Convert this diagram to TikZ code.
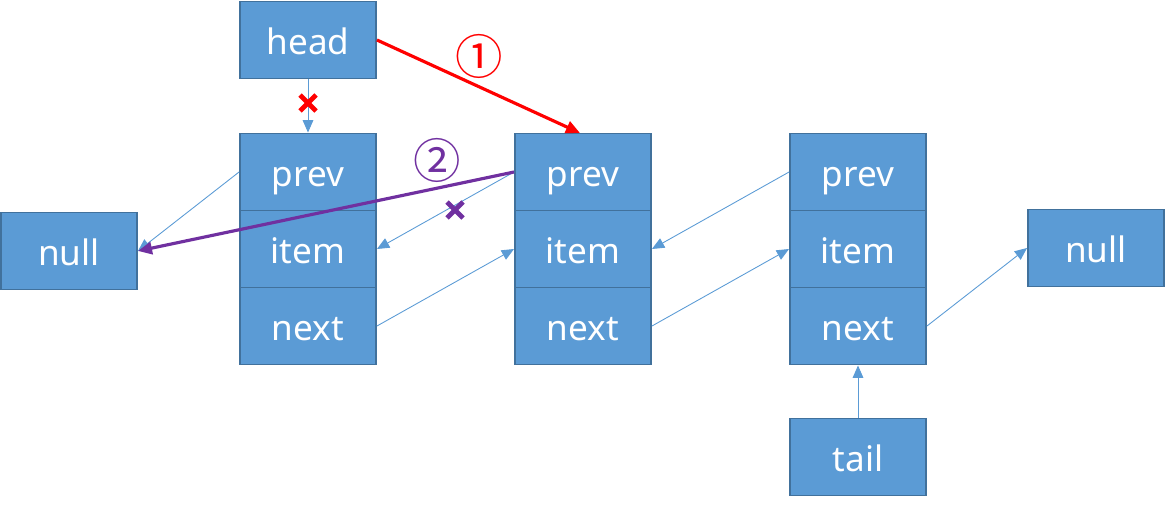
\documentclass[tikz,border=0pt]{standalone}
\usepackage{fontspec}
\setmainfont{Noto Sans}
\newfontfamily\cjkf{Noto Sans CJK SC}
\usetikzlibrary{arrows.meta}
\definecolor{boxfill}{HTML}{5B9BD5}
\definecolor{boxline}{HTML}{41719C}
\definecolor{lnblue}{HTML}{5B9BD5}
\definecolor{purp}{HTML}{7030A0}
\begin{document}
\begin{tikzpicture}[x=0.02cm,y=-0.02cm,
  cell/.style={draw=boxline,fill=boxfill,line width=1.1pt,minimum width=2.72cm,minimum height=1.54cm,inner sep=0pt,text=white,font=\fontsize{20}{24}\selectfont,text height=16pt,text depth=0pt},
  thin/.style={draw=lnblue,line width=0.5pt,-{Triangle[length=7pt,width=6pt]}},
  thick red/.style={draw=red,line width=1.8pt,-{Triangle[length=8pt,width=7pt]}},
  thick purp/.style={draw=purp,line width=1.8pt,-{Triangle[length=8pt,width=7pt]}},
  num/.style={font=\cjkf\fontsize{27}{30}\selectfont,inner sep=0pt}]
\useasboundingbox (0,0) rectangle (1165,504);
% boxes
\node[cell] (head) at (308,40) {head};
\node[cell] (n1p) at (308,172) {prev};
\node[cell] (n1i) at (308,249) {item};
\node[cell] (n1n) at (308,326) {next};
\node[cell] (n2p) at (583,172) {prev};
\node[cell] (n2i) at (583,249) {item};
\node[cell] (n2n) at (583,326) {next};
\node[cell] (n3p) at (858,172) {prev};
\node[cell] (n3i) at (858,249) {item};
\node[cell] (n3n) at (858,326) {next};
\node[cell] (nullL) at (69,251) {null};
\node[cell] (nullR) at (1096,248) {null};
\node[cell] (tail) at (858,457) {tail};
% thin blue connectors
\draw[thin] (head.south) -- (n1p.north);
\draw[thin] (n1p.west) -- (nullL.east);
\draw[thin] (n2p.west) -- (n1i.east);
\draw[thin] (n1n.east) -- (n2i.west);
\draw[thin] (n3p.west) -- (n2i.east);
\draw[thin] (n2n.east) -- (n3i.west);
\draw[thin] (n3n.east) -- (nullR.west);
\draw[thin] (tail.north) -- (n3n.south);
% coloured connectors
\coordinate (n2top) at (580,133);
\draw[thick red] (head.east) -- (n2top);
\draw[thick purp] (n2p.west) -- (nullL.east);
% labels
\node[num,text=red] (l1) at (479,56) {①};
\node[num,text=purp] (l2) at (437,160) {②};
% crosses
\coordinate (x1) at (308,103);
\coordinate (x2) at (455,210);
\draw[red,line width=2.8pt] ([shift={(-8,-8)}]x1) -- ([shift={(8,8)}]x1) ([shift={(-8,8)}]x1) -- ([shift={(8,-8)}]x1);
\draw[purp,line width=2.8pt] ([shift={(-8,-8)}]x2) -- ([shift={(8,8)}]x2) ([shift={(-8,8)}]x2) -- ([shift={(8,-8)}]x2);
\end{tikzpicture}
\end{document}
